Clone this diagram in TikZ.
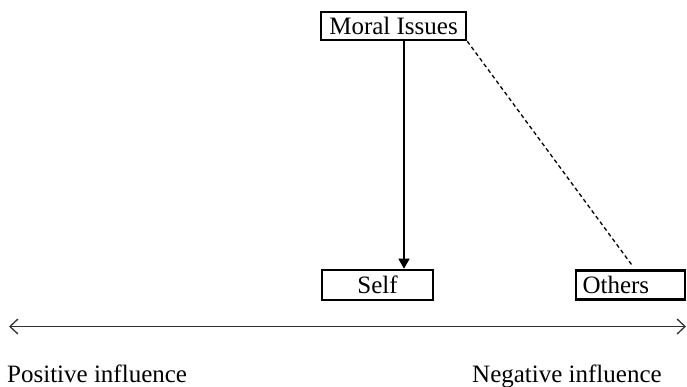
\documentclass[tikz,border=0pt]{standalone}
\usepackage{fontspec}
\setmainfont{Liberation Serif}
\usetikzlibrary{arrows.meta,calc}
\begin{document}
\begin{tikzpicture}[x=1pt,y=-1pt,
  box/.style={draw=black,line width=2.6pt,rectangle,inner sep=0pt,font=\fontsize{25}{28}\selectfont},
  lbl/.style={inner sep=0pt,font=\fontsize{25}{28}\selectfont},
  conn/.style={line width=1.3pt,black}
]
\useasboundingbox (0,0) rectangle (687,386);
\node[box,minimum width=145pt,minimum height=28pt] (mi) at (393.5,26) {Moral Issues};
\node[box,minimum width=111pt,minimum height=30pt] (self) at (377.5,285) {Self};
\node[box,minimum width=109pt,minimum height=29pt,text width=96pt,align=left,inner xsep=6pt] (oth) at (630.5,285) {Others};
\coordinate (ax) at (404,0);
\draw[conn,-{Triangle[length=10pt,width=11pt]}] (ax |- mi.south) -- (ax |- self.north);
\draw[conn,dash pattern=on 4pt off 3pt] (mi.south east) -- ($(oth.north)+(1.5,-4)$);
\coordinate (l) at (9,326.5);
\coordinate (r) at (686,326.5);
\draw[line width=1.3pt,black!80,{Straight Barb[length=8pt,width=15pt]}-{Straight Barb[length=8pt,width=15pt]}] (l) -- (r);
\node[lbl,anchor=base west] (pos) at (7,382) {Positive influence};
\node[lbl,anchor=base west] (neg) at (472,382) {Negative influence};
\end{tikzpicture}
\end{document}
